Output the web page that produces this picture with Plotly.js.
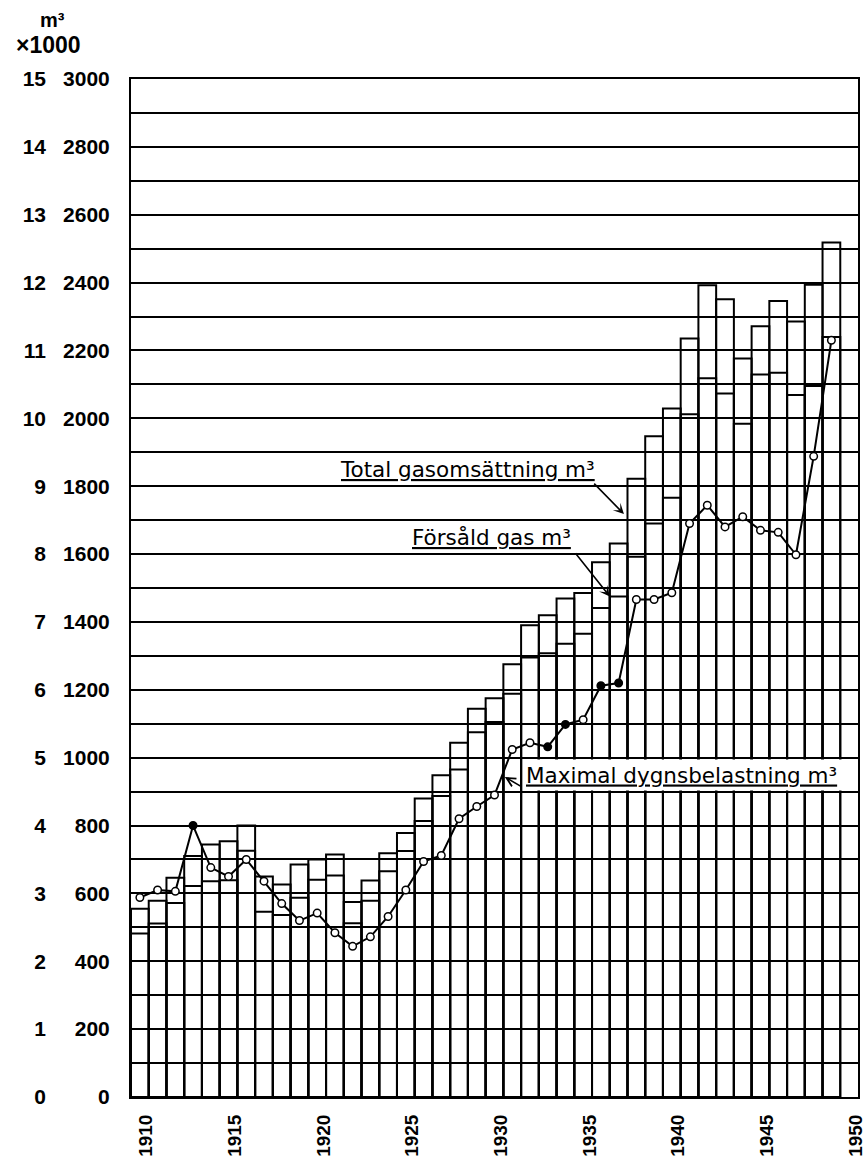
<!DOCTYPE html>
<html>
<head>
<meta charset="utf-8">
<script src="https://cdn.plot.ly/plotly-3.0.1.min.js"></script>
<style>
html,body{margin:0;padding:0;background:#fff;}
#chart{width:865px;height:1157px;}
</style>
</head>
<body>
<div id="chart"></div>
<script>
// ---- data ----
const years = [1910,1911,1912,1913,1914,1915,1916,1917,1918,1919,
               1920,1921,1922,1923,1924,1925,1926,1927,1928,1929,
               1930,1931,1932,1933,1934,1935,1936,1937,1938,1939,
               1940,1941,1942,1943,1944,1945,1946,1947,1948,1949];
// Total gasomsättning, 1000 m³ (right scale 0–3000)
const totalGas = [555,578,646,710,744,754,800,650,626,685,
                  700,715,575,638,718,778,880,948,1044,1144,
                  1175,1275,1390,1420,1469,1485,1576,1631,1822,1947,
                  2029,2235,2392,2351,2176,2271,2346,2285,2394,2518];
// Försåld gas, 1000 m³ (right scale 0–3000)
const soldGas = [482,511,572,622,636,639,726,546,536,587,
                 640,653,512,578,665,725,813,887,965,1075,
                 1105,1188,1295,1308,1336,1365,1441,1475,1592,1690,
                 1766,2012,2118,2073,1984,2129,2134,2069,2095,2240];
// Maximal dygnsbelastning, 1000 m³ (left scale 0–15)
const maxLoad = [2.94,3.05,3.03,4.00,3.38,3.25,3.50,3.18,2.85,2.60,
                 2.71,2.42,2.22,2.36,2.66,3.05,3.47,3.56,4.10,4.28,
                 4.45,5.12,5.22,5.16,5.49,5.56,6.06,6.10,7.33,7.33,
                 7.43,8.45,8.72,8.40,8.55,8.35,8.32,7.99,9.44,11.15];
const filledYears = [1913,1933,1934,1936,1937];
const xTickYears = [1910,1915,1920,1925,1930,1935,1940,1945,1950];
const rightTicks = [0,200,400,600,800,1000,1200,1400,1600,1800,2000,2200,2400,2600,2800,3000];
const leftTicks  = [0,1,2,3,4,5,6,7,8,9,10,11,12,13,14,15];
const gridValues = [0,100,200,300,400,500,600,700,800,900,1000,1100,1200,1300,1400,1500,
                    1600,1700,1800,1900,2000,2100,2200,2300,2400,2500,2600,2700,2800,2900,3000];

const xs = years.map(y => y + 0.5);
const BOLD = 'Liberation Sans, Arial, sans-serif';
const tickFont = {family:BOLD, size:21, color:'black', weight:'bold'};
const noteFont = {family:'DejaVu Sans, sans-serif', size:21.5, color:'black', lineposition:'under'};

const traces = [
  {type:'bar', x:xs, y:totalGas, width:1, hoverinfo:'skip',
   marker:{color:'rgba(0,0,0,0)', line:{color:'black', width:2}}},
  {type:'bar', x:xs, y:soldGas, width:1, hoverinfo:'skip',
   marker:{color:'rgba(0,0,0,0)', line:{color:'black', width:2}}},
  {type:'scatter', x:xs, y:maxLoad, yaxis:'y2', mode:'lines+markers', cliponaxis:false,
   line:{color:'black', width:2},
   marker:{symbol:'circle', size:7.5,
           color:years.map(y => filledYears.includes(y) ? 'black' : 'white'),
           line:{color:'black', width:1.5}}}
];

function arrow(hx, hy, tx, ty, head){
  return {xref:'x', yref:'y', axref:'x', ayref:'y', x:hx, y:hy, ax:tx, ay:ty,
          text:'', showarrow:true, arrowhead:head, arrowsize:1.1, arrowwidth:1.6,
          arrowcolor:'black', standoff:0, startstandoff:0, font:{size:1}};
}

const layout = {
  width:865, height:1157,
  margin:{l:46, r:7, t:79, b:60, pad:0},
  paper_bgcolor:'white', plot_bgcolor:'white',
  showlegend:false, barmode:'overlay',
  font:{family:BOLD, color:'black'},
  xaxis:{domain:[(131-46)/812, 1], range:[1910,1951], fixedrange:true,
         tickmode:'array', tickvals:xTickYears.map(y => y + 0.85), ticktext:xTickYears.map(String),
         tickangle:-90, ticks:'', showgrid:false, zeroline:false,
         showline:true, mirror:true, linecolor:'black', linewidth:2,
         tickfont:{family:BOLD, size:19, color:'black', weight:'bold'},
         ticklabelstandoff:8, ticklabeloverflow:'allow'},
  yaxis:{range:[0,3000], fixedrange:true,
         tickmode:'array', tickvals:gridValues,
         ticktext:gridValues.map(v => rightTicks.includes(v) ? String(v) : ''),
         showgrid:true, gridcolor:'black', gridwidth:2,
         zeroline:false, showline:true, mirror:true, linecolor:'black', linewidth:2,
         ticks:'', tickfont:tickFont, ticklabelstandoff:15, ticklabeloverflow:'allow'},
  yaxis2:{overlaying:'y', anchor:'free', position:0, side:'left', range:[0,15], fixedrange:true,
          tickmode:'array', tickvals:leftTicks, ticktext:leftTicks.map(String),
          showgrid:false, zeroline:false, showline:false, ticks:'',
          tickfont:tickFont, ticklabelstandoff:0, ticklabeloverflow:'allow'},
  annotations:[
    {xref:'paper', yref:'paper', x:(52-46)/812, y:(1097-20)/1018, text:'m³', showarrow:false,
     xanchor:'center', yanchor:'middle', font:{family:BOLD, size:20, weight:'bold', color:'black'}},
    {xref:'paper', yref:'paper', x:(48-46)/812, y:(1097-45)/1018, text:'×1000', showarrow:false,
     xanchor:'center', yanchor:'middle', font:{family:BOLD, size:23, weight:'bold', color:'black'}},
    {xref:'x', yref:'y', x:1921.67, y:1848, text:'Total gasomsättning m³', showarrow:false,
     xanchor:'left', yanchor:'middle', font:noteFont},
    {xref:'x', yref:'y', x:1925.72, y:1649, text:'Försåld gas m³', showarrow:false,
     xanchor:'left', yanchor:'middle', font:noteFont},
    {xref:'x', yref:'y', x:1932.09, y:950, text:'Maximal dygnsbelastning m³', showarrow:false,
     xanchor:'left', yanchor:'middle', align:'left', valign:'middle',
     width:328, height:26, borderpad:2, bgcolor:'white', font:noteFont},
    arrow(1937.8, 1718, 1936.04, 1812, 3),
    arrow(1937.0, 1475, 1935.0, 1607, 3),
    arrow(1931.08, 943, 1932.1, 912, 5)
  ]
};

Plotly.newPlot('chart', traces, layout, {staticPlot:true, displayModeBar:false});
</script>
</body>
</html>
